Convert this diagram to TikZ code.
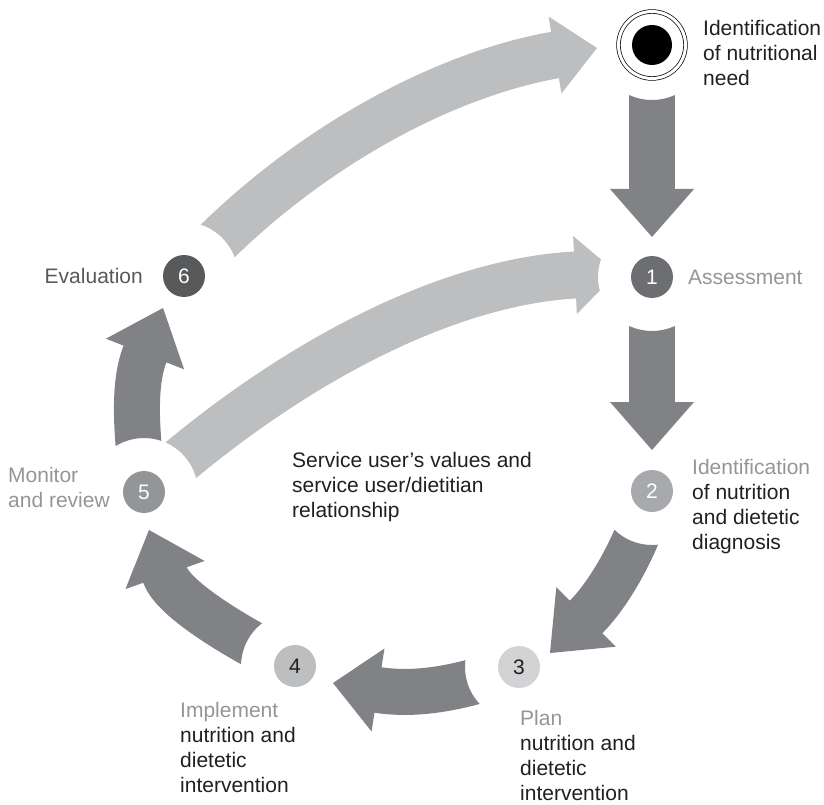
\documentclass[tikz,border=0pt]{standalone}
\usepackage{fontspec}
\setmainfont{Liberation Sans}
\usepackage{tikz}
\usetikzlibrary{calc,backgrounds}
\definecolor{arrowdark}{HTML}{808285}
\definecolor{arrowlight}{HTML}{BCBEC0}
\definecolor{labelgrey}{HTML}{939598}
\definecolor{textblack}{HTML}{231F20}
\definecolor{stageone}{HTML}{6D6E71}
\definecolor{stagetwo}{HTML}{A7A9AC}
\definecolor{stagethree}{HTML}{D1D3D4}
\definecolor{stagefour}{HTML}{BCBEC0}
\definecolor{stagefive}{HTML}{939598}
\definecolor{stagesix}{HTML}{58595B}

\begin{document}
\begin{tikzpicture}[x=1pt,y=-1pt,font=\fontsize{21}{25}\selectfont,
  stage/.style={circle,minimum size=42pt,inner sep=0pt,font=\fontsize{21}{25}\selectfont},
  stagetext/.style={inner sep=0pt,align=left,anchor=north west,text=textblack},
  darkbody/.style={draw=arrowdark,line width=46pt},
  lightbody/.style={draw=arrowlight,line width=47pt}]
\useasboundingbox (0,0) rectangle (824,805);

% stages
\node[circle,draw=black,double,double distance=3pt,line width=0.7pt,minimum size=67pt,inner sep=0pt] (need) at (652,45) {};
\node[circle,fill=black,minimum size=40pt,inner sep=0pt] (needdot) at (need) {};
\node[stagetext] (needtext) at (703,20) {Identification\\of nutritional\\need};
\node[stage,fill=stageone,text=white] (n1) at (652,277) {1};
\node[stagetext,anchor=west,text=labelgrey] (n1text) at (688,277) {Assessment};
\node[stage,fill=stagetwo,text=white] (n2) at (652,491) {2};
\node[stagetext] (n2text) at (692,459) {\textcolor{labelgrey}{Identification}\\of nutrition\\and dietetic\\diagnosis};
\node[stage,fill=stagethree,text=textblack] (n3) at (519,667) {3};
\node[stagetext] (n3text) at (520,710) {\textcolor{labelgrey}{Plan}\\nutrition and\\dietetic\\intervention};
\node[stage,fill=stagefour,text=textblack] (n4) at (295,666) {4};
\node[stagetext] (n4text) at (180,702) {\textcolor{labelgrey}{Implement}\\nutrition and\\dietetic\\intervention};
\node[stage,fill=stagefive,text=white] (n5) at (144,492) {5};
\node[stagetext,text=labelgrey] (n5text) at (8,467) {Monitor\\and review};
\node[stage,fill=stagesix,text=white] (n6) at (184,276) {6};
\node[stagetext,anchor=east,text=stagesix] (n6text) at (143,276) {Evaluation};
\node[stagetext] (core) at (292,452) {Service user’s values and\\service user/dietitian\\relationship};

% arrow ends
\coordinate (base1) at (652,189); \coordinate (tip1) at (652,237);
\coordinate (base2) at (652,402); \coordinate (tip2) at (652,450);
\coordinate (base3) at (586,617); \coordinate (tip3) at (550,653);
\coordinate (base4) at (378,690); \coordinate (tip4) at (333,683);
\coordinate (base5) at (165,575); \coordinate (tip5) at (149,530);
\coordinate (base6) at (145,354); \coordinate (tip6) at (163,308);
\coordinate (base7) at (575,275); \coordinate (tip7) at (617,273);
\coordinate (base8) at (555,55);  \coordinate (tip8) at (597,48);

\begin{scope}[on background layer]
\clip (0,0) -- (0,805) -- (824,805) -- (824,0) -- cycle (need.center) ++(55,0) arc[start angle=0,end angle=360,radius=55];
\draw[darkbody] (need.center) -- ($(base1)!2pt!(tip1)$);
\fill[arrowdark] (tip1) -- ($(base1)!42pt!90:(tip1)$) -- ($(base1)!42pt!-90:(tip1)$) -- cycle;
\end{scope}

\begin{scope}[on background layer]
\clip (0,0) -- (0,805) -- (824,805) -- (824,0) -- cycle (n1.center) ++(54,0) arc[start angle=0,end angle=360,radius=54];
\draw[darkbody] (n1.center) -- ($(base2)!2pt!(tip2)$);
\fill[arrowdark] (tip2) -- ($(base2)!42pt!90:(tip2)$) -- ($(base2)!42pt!-90:(tip2)$) -- cycle;
\end{scope}

\begin{scope}[on background layer]
\clip (0,0) -- (0,805) -- (824,805) -- (824,0) -- cycle (n2.center) ++(54,0) arc[start angle=0,end angle=360,radius=54];
\draw[darkbody] (n2.center) .. controls (640,540) and (611,592) .. (base3) -- ($(base3)!2pt!(tip3)$);
\fill[arrowdark] (tip3) -- ($(base3)!42pt!90:(tip3)$) -- ($(base3)!42pt!-90:(tip3)$) -- cycle;
\end{scope}

\begin{scope}[on background layer]
\clip (0,0) -- (0,805) -- (824,805) -- (824,0) -- cycle (n3.center) ++(54,0) arc[start angle=0,end angle=360,radius=54];
\draw[darkbody] (n3.center) .. controls (463,688) and (418,696) .. (base4) -- ($(base4)!2pt!(tip4)$);
\fill[arrowdark] (tip4) -- ($(base4)!42pt!90:(tip4)$) -- ($(base4)!42pt!-90:(tip4)$) -- cycle;
\end{scope}

\begin{scope}[on background layer]
\clip (0,0) -- (0,805) -- (824,805) -- (824,0) -- cycle (n4.center) ++(54,0) arc[start angle=0,end angle=360,radius=54];
\draw[darkbody] (n4.center) .. controls (254,647) and (175,603) .. (base5) -- ($(base5)!2pt!(tip5)$);
\fill[arrowdark] (tip5) -- ($(base5)!42pt!90:(tip5)$) -- ($(base5)!42pt!-90:(tip5)$) -- cycle;
\end{scope}

\begin{scope}[on background layer]
\clip (0,0) -- (0,805) -- (824,805) -- (824,0) -- cycle (n5.center) ++(54,0) arc[start angle=0,end angle=360,radius=54];
\draw[darkbody] (n5.center) .. controls (137,440) and (132,387) .. (base6) -- ($(base6)!2pt!(tip6)$);
\fill[arrowdark] (tip6) -- ($(base6)!42pt!90:(tip6)$) -- ($(base6)!42pt!-90:(tip6)$) -- cycle;
\draw[lightbody] (n5.center) .. controls (285,365) and (445,282) .. (base7) -- ($(base7)!2pt!(tip7)$);
\fill[arrowlight] (tip7) -- ($(base7)!39pt!90:(tip7)$) -- ($(base7)!39pt!-90:(tip7)$) -- cycle;
\end{scope}

\begin{scope}[on background layer]
\clip (0,0) -- (0,805) -- (824,805) -- (824,0) -- cycle (n6.center) ++(54,0) arc[start angle=0,end angle=360,radius=54];
\draw[lightbody] (n6.center) .. controls (291,157) and (436,76) .. (base8) -- ($(base8)!2pt!(tip8)$);
\fill[arrowlight] (tip8) -- ($(base8)!39pt!90:(tip8)$) -- ($(base8)!39pt!-90:(tip8)$) -- cycle;
\end{scope}
\end{tikzpicture}
\end{document}
